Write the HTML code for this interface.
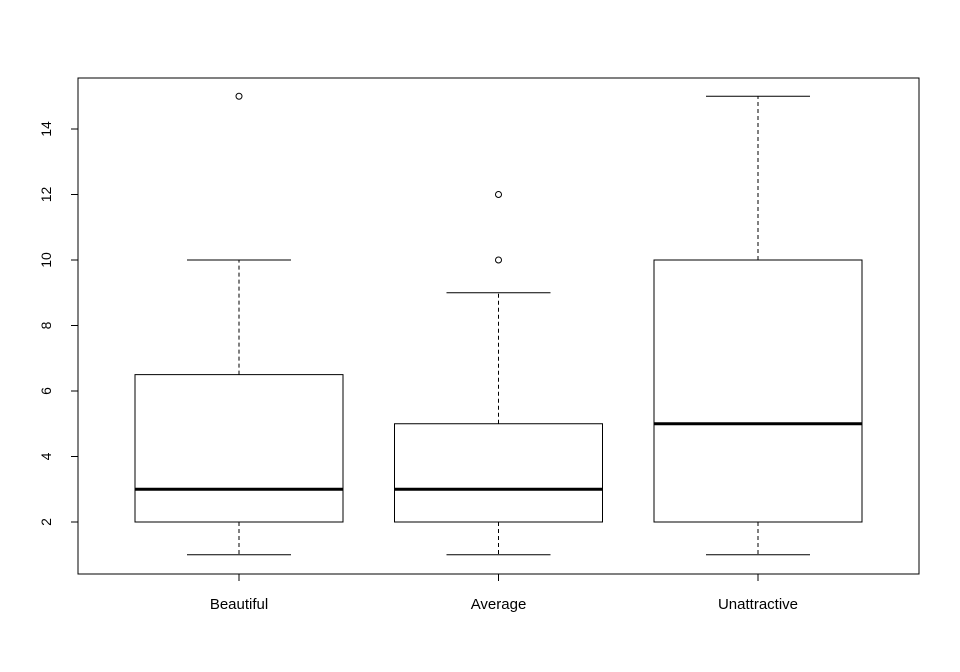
<!DOCTYPE html>
<html><head><meta charset="utf-8"><style>
html,body{margin:0;padding:0;background:#fff;}
svg{display:block;font-family:"Liberation Sans",Arial,sans-serif;}
</style></head><body>
<svg id="chart" width="960" height="672">
<rect x="78" y="78" width="841" height="496" fill="none" stroke="#000" stroke-width="1"/>
</svg>
<script>
const categories = ["Beautiful","Average","Unattractive"];
const lowWhisker = [1,1,1];
const q1 = [2,2,2];
const medians = [3,3,5];
const q3 = [6.5,5,10];
const highWhisker = [10,9,15];
const outliers = [[15],[10,12],[]];
const yTicks = [2,4,6,8,10,12,14];

const svg = document.getElementById('chart');
const NS = 'http://www.w3.org/2000/svg';
function y(v){ return 522 - (v-2)*32.75; }
function x(i){ return 239 + i*259.5; }
const halfBox = 104, halfCap = 52;
function mk(tag, attrs, parent){
  const e = document.createElementNS(NS, tag);
  for (const k in attrs) e.setAttribute(k, attrs[k]);
  (parent||svg).appendChild(e);
  return e;
}
yTicks.forEach(t=>{
  const g = mk('g',{});
  
  
  mk('line',{x1:71,x2:78,y1:y(t),y2:y(t),stroke:'#000'},g);
  const tx = mk('text',{x:0,y:0,'font-size':14,'text-anchor':'middle',transform:`translate(51,${y(t)}) rotate(-90)`},g);
  tx.textContent = t;
});
categories.forEach((c,i)=>{
  const cx = x(i);
  const g = mk('g',{});
  
  
  mk('line',{x1:cx,x2:cx,y1:y(q1[i]),y2:y(lowWhisker[i]),stroke:'#000','stroke-dasharray':'4,3'},g);
  mk('line',{x1:cx,x2:cx,y1:y(q3[i]),y2:y(highWhisker[i]),stroke:'#000','stroke-dasharray':'4,3'},g);
  mk('line',{x1:cx-halfCap,x2:cx+halfCap,y1:y(lowWhisker[i]),y2:y(lowWhisker[i]),stroke:'#000'},g);
  mk('line',{x1:cx-halfCap,x2:cx+halfCap,y1:y(highWhisker[i]),y2:y(highWhisker[i]),stroke:'#000'},g);
  mk('rect',{x:cx-halfBox,y:y(q3[i]),width:2*halfBox,height:y(q1[i])-y(q3[i]),fill:'none',stroke:'#000'},g);
  mk('line',{x1:cx-halfBox,x2:cx+halfBox,y1:y(medians[i]),y2:y(medians[i]),stroke:'#000','stroke-width':3},g);
  outliers[i].forEach(o=>{
    const p = mk('circle',{cx:cx,cy:y(o),r:3,fill:'none',stroke:'#000'},g);
    
    
  });
  mk('line',{x1:cx,x2:cx,y1:574,y2:581,stroke:'#000'},g);
  const t = mk('text',{x:cx,y:609,'font-size':15,'text-anchor':'middle'});
  t.textContent = c;
  
  
});
</script>
</body></html>
